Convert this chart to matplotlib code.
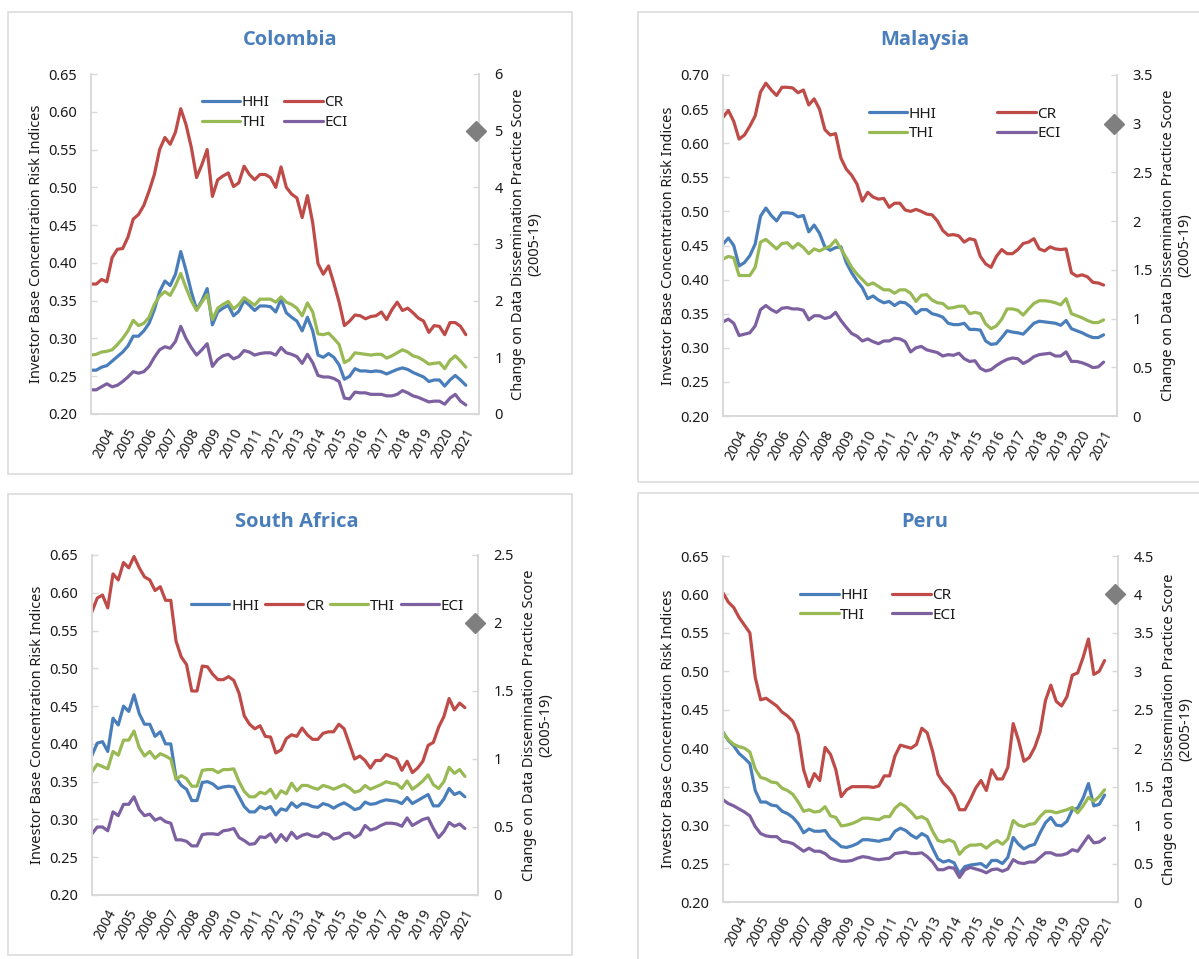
import numpy as np
import matplotlib
matplotlib.use("Agg")
import matplotlib.pyplot as plt
from matplotlib.patches import Rectangle
from matplotlib.ticker import FuncFormatter

plt.rcParams["font.family"] = ["Noto Sans", "DejaVu Sans"]

# =========================
# DATA (quarterly)
# =========================

years = [str(y) for y in range(2004, 2022)]

col_hhi = [0.258, 0.258, 0.262, 0.264, 0.270, 0.276, 0.282, 0.290, 0.303, 0.303,
           0.310, 0.320, 0.338, 0.362, 0.376, 0.370, 0.385, 0.415, 0.390, 0.362,
           0.338, 0.350, 0.366, 0.318, 0.335, 0.340, 0.344, 0.330, 0.336, 0.350,
           0.344, 0.337, 0.343, 0.343, 0.342, 0.335, 0.352, 0.334, 0.328, 0.323,
           0.310, 0.328, 0.310, 0.278, 0.275, 0.280, 0.275, 0.265, 0.246, 0.250,
           0.260, 0.257, 0.257, 0.256, 0.257, 0.256, 0.253, 0.256, 0.259, 0.261,
           0.259, 0.255, 0.252, 0.249, 0.243, 0.245, 0.245, 0.237, 0.245, 0.251,
           0.245, 0.238]
col_cr = [0.372, 0.372, 0.378, 0.375, 0.407, 0.418, 0.419, 0.434, 0.458, 0.464,
          0.476, 0.495, 0.517, 0.550, 0.566, 0.557, 0.573, 0.604, 0.583, 0.553,
          0.513, 0.530, 0.550, 0.488, 0.510, 0.515, 0.519, 0.501, 0.506, 0.528,
          0.517, 0.510, 0.517, 0.517, 0.513, 0.500, 0.527, 0.500, 0.491, 0.486,
          0.460, 0.489, 0.453, 0.399, 0.385, 0.396, 0.373, 0.348, 0.317, 0.323,
          0.331, 0.330, 0.326, 0.329, 0.330, 0.335, 0.325, 0.338, 0.348, 0.337,
          0.340, 0.334, 0.327, 0.323, 0.308, 0.317, 0.316, 0.305, 0.321, 0.321,
          0.316, 0.305]
col_thi = [0.278, 0.279, 0.282, 0.283, 0.285, 0.292, 0.300, 0.310, 0.324, 0.317,
           0.320, 0.328, 0.345, 0.356, 0.362, 0.357, 0.370, 0.386, 0.367, 0.350,
           0.337, 0.348, 0.358, 0.325, 0.340, 0.345, 0.349, 0.339, 0.345, 0.354,
           0.349, 0.344, 0.352, 0.352, 0.352, 0.348, 0.355, 0.348, 0.345, 0.340,
           0.330, 0.347, 0.335, 0.306, 0.305, 0.307, 0.300, 0.292, 0.268, 0.272,
           0.281, 0.280, 0.279, 0.278, 0.279, 0.279, 0.274, 0.277, 0.281, 0.285,
           0.282, 0.277, 0.275, 0.271, 0.266, 0.267, 0.268, 0.260, 0.271, 0.277,
           0.270, 0.262]
col_eci = [0.232, 0.232, 0.236, 0.240, 0.236, 0.238, 0.243, 0.249, 0.256, 0.254,
           0.256, 0.263, 0.275, 0.285, 0.289, 0.287, 0.296, 0.316, 0.300, 0.288,
           0.278, 0.285, 0.293, 0.263, 0.272, 0.277, 0.279, 0.273, 0.276, 0.284,
           0.282, 0.278, 0.280, 0.281, 0.281, 0.278, 0.288, 0.281, 0.279, 0.276,
           0.267, 0.279, 0.268, 0.251, 0.249, 0.249, 0.247, 0.243, 0.221, 0.220,
           0.229, 0.228, 0.228, 0.226, 0.226, 0.226, 0.224, 0.224, 0.226, 0.231,
           0.228, 0.224, 0.222, 0.219, 0.216, 0.217, 0.217, 0.213, 0.221, 0.226,
           0.217, 0.212]

mys_hhi = [0.452, 0.461, 0.450, 0.420, 0.425, 0.435, 0.452, 0.493, 0.505, 0.494,
           0.486, 0.498, 0.498, 0.497, 0.492, 0.494, 0.470, 0.480, 0.468, 0.448,
           0.443, 0.447, 0.448, 0.425, 0.410, 0.398, 0.388, 0.372, 0.376, 0.370,
           0.366, 0.368, 0.362, 0.367, 0.366, 0.360, 0.350, 0.356, 0.356, 0.350,
           0.348, 0.345, 0.336, 0.334, 0.334, 0.336, 0.327, 0.327, 0.326, 0.310,
           0.305, 0.306, 0.315, 0.325, 0.323, 0.322, 0.320, 0.328, 0.336, 0.339,
           0.338, 0.337, 0.336, 0.333, 0.340, 0.328, 0.325, 0.322, 0.318, 0.315,
           0.315, 0.319]
mys_cr = [0.638, 0.648, 0.632, 0.606, 0.612, 0.625, 0.640, 0.675, 0.688, 0.678,
          0.670, 0.682, 0.682, 0.681, 0.674, 0.678, 0.656, 0.665, 0.650, 0.620,
          0.612, 0.614, 0.578, 0.562, 0.553, 0.540, 0.515, 0.528, 0.521, 0.518,
          0.519, 0.506, 0.512, 0.512, 0.502, 0.500, 0.503, 0.500, 0.496, 0.495,
          0.486, 0.472, 0.465, 0.466, 0.464, 0.455, 0.460, 0.458, 0.434, 0.423,
          0.418, 0.434, 0.444, 0.438, 0.438, 0.444, 0.453, 0.455, 0.460, 0.445,
          0.442, 0.448, 0.445, 0.444, 0.445, 0.410, 0.405, 0.407, 0.404, 0.396,
          0.395, 0.392]
mys_thi = [0.430, 0.434, 0.432, 0.406, 0.406, 0.406, 0.418, 0.455, 0.459, 0.452,
           0.445, 0.453, 0.454, 0.446, 0.453, 0.447, 0.438, 0.445, 0.442, 0.446,
           0.449, 0.458, 0.445, 0.432, 0.418, 0.408, 0.400, 0.392, 0.395, 0.390,
           0.385, 0.385, 0.380, 0.385, 0.385, 0.380, 0.368, 0.377, 0.378, 0.370,
           0.366, 0.365, 0.358, 0.359, 0.361, 0.361, 0.350, 0.352, 0.350, 0.335,
           0.328, 0.332, 0.342, 0.357, 0.357, 0.355, 0.348, 0.357, 0.365, 0.369,
           0.369, 0.368, 0.366, 0.363, 0.372, 0.350, 0.347, 0.344, 0.340, 0.337,
           0.337, 0.341]
mys_eci = [0.338, 0.342, 0.336, 0.318, 0.320, 0.322, 0.332, 0.356, 0.362, 0.356,
           0.352, 0.358, 0.359, 0.357, 0.357, 0.355, 0.341, 0.347, 0.347, 0.343,
           0.345, 0.352, 0.340, 0.330, 0.321, 0.317, 0.310, 0.313, 0.309, 0.306,
           0.310, 0.310, 0.314, 0.313, 0.309, 0.294, 0.300, 0.302, 0.297, 0.295,
           0.293, 0.288, 0.290, 0.289, 0.292, 0.284, 0.280, 0.281, 0.270, 0.266,
           0.268, 0.274, 0.279, 0.283, 0.285, 0.284, 0.277, 0.281, 0.287, 0.290,
           0.291, 0.292, 0.288, 0.288, 0.294, 0.280, 0.280, 0.278, 0.275, 0.271,
           0.272, 0.279]

zaf_hhi = [0.385, 0.401, 0.403, 0.390, 0.434, 0.425, 0.450, 0.443, 0.465, 0.440,
           0.426, 0.426, 0.410, 0.416, 0.400, 0.400, 0.355, 0.345, 0.340, 0.325,
           0.325, 0.349, 0.350, 0.347, 0.341, 0.343, 0.344, 0.343, 0.330, 0.317,
           0.310, 0.310, 0.317, 0.314, 0.317, 0.306, 0.314, 0.312, 0.322, 0.316,
           0.321, 0.320, 0.317, 0.316, 0.321, 0.319, 0.315, 0.319, 0.322, 0.318,
           0.313, 0.315, 0.323, 0.320, 0.321, 0.324, 0.326, 0.325, 0.324, 0.321,
           0.329, 0.321, 0.325, 0.329, 0.333, 0.318, 0.318, 0.327, 0.341, 0.333,
           0.336, 0.330]
zaf_cr = [0.575, 0.593, 0.597, 0.580, 0.625, 0.617, 0.640, 0.633, 0.648, 0.633,
          0.621, 0.617, 0.603, 0.608, 0.590, 0.590, 0.536, 0.515, 0.505, 0.470,
          0.470, 0.503, 0.502, 0.492, 0.485, 0.485, 0.489, 0.484, 0.467, 0.437,
          0.426, 0.420, 0.424, 0.410, 0.409, 0.388, 0.392, 0.407, 0.412, 0.410,
          0.421, 0.412, 0.406, 0.406, 0.414, 0.416, 0.416, 0.426, 0.420, 0.400,
          0.380, 0.384, 0.378, 0.368, 0.378, 0.378, 0.386, 0.383, 0.380, 0.365,
          0.377, 0.362, 0.368, 0.377, 0.398, 0.402, 0.422, 0.436, 0.460, 0.445,
          0.454, 0.448]
zaf_thi = [0.363, 0.373, 0.370, 0.367, 0.390, 0.385, 0.405, 0.405, 0.417, 0.395,
           0.384, 0.390, 0.381, 0.387, 0.384, 0.380, 0.353, 0.358, 0.354, 0.344,
           0.344, 0.365, 0.366, 0.366, 0.362, 0.366, 0.366, 0.367, 0.350, 0.337,
           0.330, 0.330, 0.336, 0.334, 0.340, 0.328, 0.338, 0.334, 0.348, 0.338,
           0.345, 0.345, 0.342, 0.340, 0.345, 0.343, 0.340, 0.343, 0.346, 0.342,
           0.336, 0.338, 0.345, 0.340, 0.343, 0.346, 0.350, 0.348, 0.347, 0.341,
           0.351, 0.340, 0.345, 0.351, 0.359, 0.346, 0.341, 0.350, 0.369, 0.361,
           0.366, 0.357]
zaf_eci = [0.281, 0.290, 0.290, 0.285, 0.310, 0.305, 0.320, 0.320, 0.330, 0.313,
           0.305, 0.307, 0.299, 0.302, 0.297, 0.295, 0.273, 0.273, 0.271, 0.265,
           0.265, 0.280, 0.281, 0.281, 0.280, 0.285, 0.286, 0.288, 0.276, 0.272,
           0.267, 0.268, 0.277, 0.276, 0.281, 0.270, 0.280, 0.272, 0.283, 0.275,
           0.279, 0.281, 0.278, 0.277, 0.282, 0.280, 0.274, 0.276, 0.281, 0.282,
           0.276, 0.280, 0.292, 0.286, 0.288, 0.292, 0.295, 0.295, 0.294, 0.291,
           0.302, 0.292, 0.296, 0.300, 0.302, 0.288, 0.276, 0.284, 0.296, 0.291,
           0.294, 0.288]

per_hhi = [0.421, 0.410, 0.403, 0.393, 0.387, 0.380, 0.345, 0.330, 0.330, 0.326,
           0.325, 0.318, 0.315, 0.310, 0.302, 0.290, 0.295, 0.292, 0.292, 0.293,
           0.283, 0.278, 0.272, 0.271, 0.273, 0.276, 0.281, 0.281, 0.280, 0.279,
           0.281, 0.282, 0.292, 0.296, 0.293, 0.287, 0.283, 0.289, 0.285, 0.270,
           0.256, 0.252, 0.254, 0.251, 0.237, 0.246, 0.248, 0.249, 0.250, 0.245,
           0.254, 0.254, 0.250, 0.258, 0.284, 0.275, 0.269, 0.273, 0.275, 0.290,
           0.303, 0.310, 0.300, 0.299, 0.305, 0.320, 0.322, 0.335, 0.354, 0.325,
           0.327, 0.339]
per_cr = [0.602, 0.590, 0.583, 0.570, 0.560, 0.550, 0.492, 0.463, 0.465, 0.460,
          0.455, 0.447, 0.442, 0.435, 0.418, 0.372, 0.350, 0.367, 0.358, 0.401,
          0.392, 0.372, 0.337, 0.346, 0.350, 0.350, 0.350, 0.350, 0.349, 0.351,
          0.364, 0.364, 0.390, 0.404, 0.402, 0.400, 0.405, 0.426, 0.420, 0.396,
          0.366, 0.355, 0.348, 0.338, 0.320, 0.320, 0.333, 0.348, 0.358, 0.345,
          0.372, 0.360, 0.360, 0.375, 0.432, 0.410, 0.383, 0.388, 0.401, 0.421,
          0.462, 0.482, 0.461, 0.455, 0.467, 0.495, 0.498, 0.518, 0.542, 0.496,
          0.500, 0.514]
per_thi = [0.420, 0.411, 0.405, 0.402, 0.400, 0.395, 0.373, 0.362, 0.360, 0.356,
           0.355, 0.348, 0.345, 0.340, 0.330, 0.318, 0.320, 0.317, 0.318, 0.324,
           0.312, 0.310, 0.299, 0.300, 0.302, 0.305, 0.309, 0.309, 0.308, 0.307,
           0.311, 0.311, 0.322, 0.328, 0.324, 0.317, 0.309, 0.311, 0.307, 0.292,
           0.280, 0.278, 0.281, 0.278, 0.262, 0.270, 0.274, 0.274, 0.275, 0.270,
           0.276, 0.280, 0.275, 0.282, 0.306, 0.300, 0.298, 0.301, 0.302, 0.311,
           0.318, 0.318, 0.316, 0.318, 0.320, 0.323, 0.316, 0.325, 0.336, 0.331,
           0.337, 0.346]
per_eci = [0.333, 0.328, 0.325, 0.321, 0.317, 0.312, 0.298, 0.289, 0.286, 0.285,
           0.285, 0.279, 0.278, 0.276, 0.271, 0.266, 0.270, 0.266, 0.266, 0.263,
           0.257, 0.255, 0.253, 0.253, 0.254, 0.257, 0.259, 0.258, 0.256, 0.255,
           0.256, 0.257, 0.263, 0.264, 0.265, 0.263, 0.263, 0.264, 0.259, 0.252,
           0.242, 0.242, 0.245, 0.244, 0.232, 0.242, 0.245, 0.243, 0.241, 0.238,
           0.242, 0.243, 0.240, 0.243, 0.255, 0.251, 0.250, 0.252, 0.252, 0.258,
           0.264, 0.264, 0.261, 0.261, 0.263, 0.268, 0.266, 0.276, 0.286, 0.277,
           0.278, 0.283]

# change on data dissemination practice score (right axis)
col_score = 5
mys_score = 3
zaf_score = 2
per_score = 4

# =========================
# STYLE
# =========================

C_HHI = "#4a7ebb"
C_CR = "#be4b48"
C_THI = "#98b954"
C_ECI = "#7d60a0"
C_AX = "#d9d9d9"
C_TITLE = "#4a7ebb"
TXT = "#1a1a1a"

W, H = 1199, 959
fig = plt.figure(figsize=(W / 100, H / 100), dpi=100)


def fx(px):
    return px / W


def fy(py):
    return 1 - py / H


# panel frames
for (x0, y0, x1, y1) in [(8, 12, 572, 474), (638, 12, 1210, 482),
                         (8, 494, 572, 955), (638, 493, 1210, 970)]:
    fig.patches.append(Rectangle((fx(x0), fy(y1)), fx(x1 - x0), (y1 - y0) / H,
                                 transform=fig.transFigure, fill=False,
                                 edgecolor="#dedede", lw=1.3))


def panel(box, title, title_xy, hhi, cr, thi, eci, score, ylim, rmax,
          leg_ncol, leg_anchor, leg_colspace):
    left, top, right, bottom = box
    ax = fig.add_axes([fx(left), fy(bottom), fx(right - left), (bottom - top) / H])
    x = np.arange(len(hhi))

    l_hhi, = ax.plot(x, hhi, color=C_HHI, lw=2.3, label="HHI", solid_capstyle="round")
    l_cr, = ax.plot(x, cr, color=C_CR, lw=2.3, label="CR", solid_capstyle="round")
    l_thi, = ax.plot(x, thi, color=C_THI, lw=2.3, label="THI", solid_capstyle="round")
    l_eci, = ax.plot(x, eci, color=C_ECI, lw=2.3, label="ECI", solid_capstyle="round")

    ax.set_xlim(0, len(hhi) + 1.5)
    ax.set_ylim(*ylim)
    ax.set_yticks(np.arange(ylim[0], ylim[1] + 0.001, 0.05))
    ax.yaxis.set_major_formatter(FuncFormatter(lambda v, p: f"{v:.2f}"))
    ax.set_xticks(np.arange(4, 4 * len(years) + 1, 4))
    ax.set_xticklabels(years, rotation=62, ha="right", va="center",
                       rotation_mode="anchor")
    ax.tick_params(axis="x", length=0, pad=11, labelsize=10, labelcolor=TXT)
    ax.tick_params(axis="y", direction="in", length=4, color=C_AX, width=1,
                   labelsize=10.5, labelcolor=TXT, pad=10)
    ax.set_ylabel("Investor Base Concentration Risk Indices", fontsize=10.5,
                  color=TXT, labelpad=3)

    # the score sits in the last (empty) category, on the secondary axis
    ax2 = ax.twinx()
    ax2.plot([len(hhi) + 1], [score], marker="D", ms=10, color="#7f7f7f", lw=0,
             clip_on=False, zorder=5)
    ax2.set_ylim(0, rmax)
    ax2.set_yticks(np.arange(0, rmax + 0.001, 1 if rmax == 6 else 0.5))
    ax2.yaxis.set_major_formatter(FuncFormatter(lambda v, p: f"{v:g}"))
    ax2.tick_params(axis="y", direction="in", length=4, color=C_AX, width=1,
                    labelsize=10.5, labelcolor=TXT, pad=11)
    ax2.set_ylabel("Change on Data Dissemination Practice Score\n(2005-19)",
                   fontsize=10.5, color=TXT, labelpad=6, linespacing=1.1)

    for a in (ax, ax2):
        a.spines["top"].set_visible(False)
        for s in ("left", "right", "bottom"):
            a.spines[s].set_color(C_AX)
            a.spines[s].set_linewidth(1.2)

    if leg_ncol == 2:
        handles = [l_hhi, l_thi, l_cr, l_eci]
    else:
        handles = [l_hhi, l_cr, l_thi, l_eci]
    ax2.legend(handles=handles, loc="upper center", bbox_to_anchor=leg_anchor,
               ncol=leg_ncol, frameon=False, fontsize=11, handlelength=2.5,
               handletextpad=0.1, columnspacing=leg_colspace, labelspacing=0.3,
               borderaxespad=0, labelcolor=TXT)

    fig.text(fx(title_xy[0]), fy(title_xy[1]), title, ha="center", va="center",
             fontsize=14.5, fontweight="bold", color=C_TITLE,
             family=["Open Sans", "DejaVu Sans"])


panel((91, 74, 479, 414), "Colombia", (290, 40), col_hhi, col_cr, col_thi, col_eci,
      col_score, (0.20, 0.65), 6, 2, (0.473, 0.955), 1.0)
panel((723, 75, 1117, 416), "Malaysia", (925, 40), mys_hhi, mys_cr, mys_thi, mys_eci,
      mys_score, (0.20, 0.70), 3.5, 2, (0.613, 0.925), 4.0)
panel((92, 555, 478, 895), "South Africa", (297, 522), zaf_hhi, zaf_cr, zaf_thi, zaf_eci,
      zaf_score, (0.20, 0.65), 2.5, 4, (0.61, 0.89), 0.4)
panel((723, 556, 1118, 902), "Peru", (925, 522), per_hhi, per_cr, per_thi, per_eci,
      per_score, (0.20, 0.65), 4.5, 2, (0.392, 0.925), 1.6)

fig.savefig("out.png", dpi=100, facecolor="white")
